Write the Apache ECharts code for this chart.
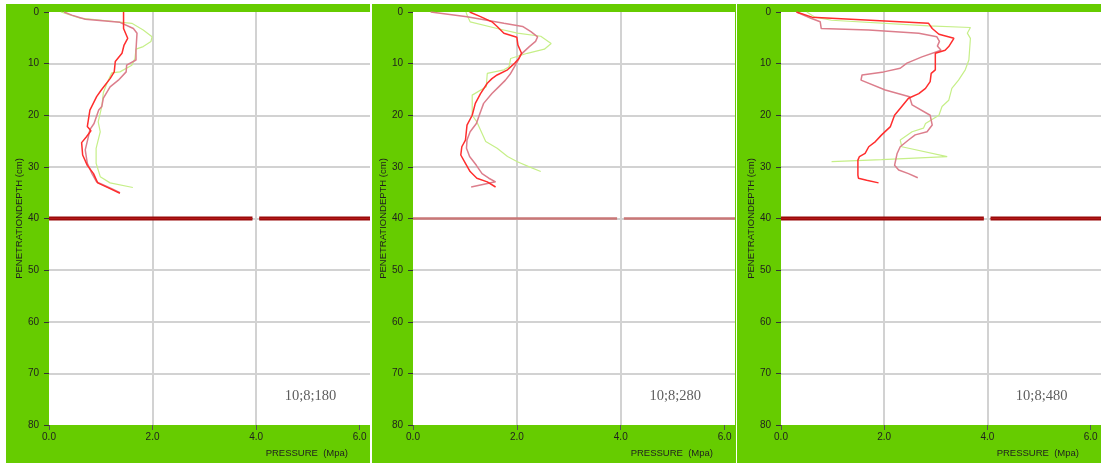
<!DOCTYPE html>
<html>
<head>
<meta charset="utf-8">
<title>Penetration resistance profiles</title>
<script src="https://cdn.jsdelivr.net/npm/echarts@6/dist/echarts.min.js"></script>
<style>
  html, body { margin: 0; padding: 0; background: #ffffff; }
  #chart { width: 1101px; height: 464px; }
</style>
</head>
<body>
<div id="chart"></div>
<script>
// ---- data: [pressure (MPa), penetration depth (cm)] ----
const pressureTicks = [0, 2, 4, 6];
const tagLabels = ['10;8;180', '10;8;280', '10;8;480'];
const tagPosition = [5.05, 74.5];
const limitDepth = 40;
const limitBreak = [3.93, 4.06];
const pressureMax = 6.2;
const depthMax = 80;

// profile 10;8;180
const red180 = [[1.44,0],[1.44,3.2],[1.52,5.1],[1.45,6.4],[1.41,8.0],[1.28,9.6],[1.26,11.6],[1.18,12.9],[1.01,15.1],[0.92,16.4],[0.79,19.0],[0.74,22.2],[0.81,23.0],[0.72,24.2],[0.63,25.3],[0.65,27.7],[0.74,29.7],[0.86,31.3],[0.94,33.1],[1.18,34.2],[1.37,35.1]];
const rose180 = [[0.29,0],[0.44,0.6],[0.70,1.4],[1.37,2.0],[1.63,3.2],[1.70,4.1],[1.68,7.4],[1.68,9.3],[1.50,10.3],[1.49,11.6],[1.34,13.2],[1.18,14.5],[1.05,16.7],[1.02,18.3],[0.96,19.0],[0.87,21.6],[0.79,22.8],[0.76,24.2],[0.70,26.7],[0.74,29.3],[0.83,31.3],[0.92,32.9],[1.18,34.1],[1.37,35.0]];
const green180 = [[0.23,0],[0.60,1.2],[1.12,1.7],[1.60,2.2],[1.82,3.5],[1.99,4.8],[1.97,5.7],[1.82,6.7],[1.68,7.2],[1.66,9.0],[1.60,10.3],[1.37,11.6],[1.21,11.8],[1.12,13.8],[1.05,15.6],[1.02,18.3],[0.95,21.3],[0.99,23.2],[0.91,26.4],[0.91,29.3],[0.99,31.9],[1.18,33.1],[1.62,34.0]];

// profile 10;8;280
const red280 = [[1.09,0],[1.30,0.9],[1.52,1.9],[1.62,2.8],[1.75,4.1],[2.00,4.9],[2.02,6.4],[2.09,8.0],[2.04,9.0],[1.96,9.9],[1.82,11.2],[1.62,12.2],[1.52,12.9],[1.43,13.8],[1.30,15.8],[1.20,17.7],[1.14,20.0],[1.04,21.9],[1.01,24.8],[0.94,26.1],[0.92,27.7],[1.01,29.3],[1.10,30.9],[1.23,32.2],[1.43,32.9],[1.59,33.9]];
const rose280 = [[0.34,0],[1.04,0.9],[1.75,2.2],[2.11,2.8],[2.27,3.8],[2.40,4.8],[2.36,5.7],[2.24,6.7],[2.07,8.3],[2.01,9.6],[1.88,11.9],[1.78,13.2],[1.65,14.5],[1.52,15.8],[1.36,17.7],[1.29,19.6],[1.22,21.6],[1.10,23.2],[1.04,24.8],[1.03,26.4],[1.09,28.0],[1.22,29.7],[1.33,31.3],[1.46,32.2],[1.59,32.9],[1.12,33.9]];
const green280 = [[1.02,0],[1.04,0.6],[1.10,1.9],[1.62,3.2],[2.01,4.1],[2.46,4.7],[2.66,6.1],[2.53,7.2],[2.20,8.0],[1.88,9.0],[1.85,10.6],[1.75,11.2],[1.43,11.9],[1.41,14.5],[1.14,16.1],[1.14,20.0],[1.23,21.3],[1.40,25.1],[1.62,26.4],[1.82,28.0],[2.01,29.0],[2.24,30.0],[2.46,30.9]];

// profile 10;8;480
const red480 = [[0.30,0],[0.60,1.0],[2.86,2.2],[2.93,3.2],[3.06,4.3],[3.35,5.1],[3.25,6.7],[3.18,7.4],[2.99,8.0],[2.99,11.2],[2.91,11.9],[2.89,13.5],[2.80,14.8],[2.67,15.8],[2.47,16.7],[2.34,18.3],[2.20,20.0],[2.12,22.2],[1.95,23.8],[1.83,25.1],[1.70,26.1],[1.63,27.4],[1.52,28.0],[1.49,28.7],[1.49,31.6],[1.50,32.2],[1.66,32.6],[1.89,33.1]];
const rose480 = [[0.30,0],[0.58,1.2],[0.76,1.9],[0.78,3.2],[1.70,3.5],[2.67,4.1],[3.02,4.8],[3.07,5.7],[3.03,6.6],[3.10,7.4],[2.73,8.7],[2.44,9.9],[2.31,10.9],[1.99,11.6],[1.57,12.2],[1.55,13.2],[2.02,15.1],[2.49,16.4],[2.54,18.0],[2.89,20.0],[2.93,21.9],[2.83,23.2],[2.60,23.8],[2.47,24.8],[2.31,26.1],[2.25,27.4],[2.20,29.7],[2.28,30.6],[2.47,31.3],[2.65,32.1]];
const green480 = [[0.50,0],[0.66,1.0],[0.98,1.6],[2.86,2.7],[3.67,3.0],[3.61,4.1],[3.67,5.1],[3.64,9.3],[3.57,11.2],[3.44,13.2],[3.31,14.8],[3.25,17.1],[3.12,18.3],[3.06,20.0],[2.80,21.6],[2.76,22.5],[2.54,23.2],[2.31,24.8],[2.34,26.1],[3.22,28.0],[1.95,28.6],[0.98,29.0]];

// ---- layout and styling ----
const panels = [
  { tag: tagLabels[0], red: red180, rose: rose180, green: green180, heavyLimit: true,
    grid: { left: 49, top: 12, width: 321, height: 413 }, frame: { x: 6, w: 364 } },
  { tag: tagLabels[1], red: red280, rose: rose280, green: green280, heavyLimit: false,
    grid: { left: 413, top: 12, width: 322, height: 413 }, frame: { x: 372, w: 364 } },
  { tag: tagLabels[2], red: red480, rose: rose480, green: green480, heavyLimit: true,
    grid: { left: 781, top: 12, width: 320, height: 413 }, frame: { x: 737, w: 364 } }
];

const FRAME_GREEN = '#66cc00';
const AXIS_TEXT = '#1f1f1f';
const GRID_GREY = '#d2d2d2';
const SANS = '"Liberation Sans", Arial, sans-serif';

// depth-40 reference line, split around the 4 MPa gridline
const limitLine = [
  [0, limitDepth], [limitBreak[0], limitDepth], ['-', '-'],
  [limitBreak[1], limitDepth], [pressureMax, limitDepth]
];

const grids = [], xAxes = [], yAxes = [], series = [], graphics = [];

panels.forEach((p, i) => {
  grids.push(Object.assign({ show: true, backgroundColor: '#ffffff', borderWidth: 0, containLabel: false }, p.grid));

  graphics.push({
    type: 'rect', z: -10, silent: true,
    shape: { x: p.frame.x, y: 4, width: p.frame.w, height: 459 },
    style: { fill: FRAME_GREEN }
  });
  graphics.push({
    type: 'text', silent: true,
    x: p.grid.left + p.grid.width - 22, y: 453,
    style: { text: 'PRESSURE  (Mpa)', font: '9.5px ' + SANS, fill: AXIS_TEXT,
             textAlign: 'right', textVerticalAlign: 'middle' }
  });

  xAxes.push({
    gridIndex: i, type: 'value', position: 'bottom', min: 0, max: pressureMax, interval: 2,
    axisLine: { show: false, onZero: false },
    axisTick: { show: true, length: 5, customValues: pressureTicks,
                lineStyle: { color: '#555', width: 1 } },
    axisLabel: { customValues: pressureTicks, margin: 7, color: AXIS_TEXT,
                 fontSize: 10, fontFamily: SANS, formatter: v => v.toFixed(1) },
    splitLine: { show: true, showMinLine: false, showMaxLine: false,
                 lineStyle: { color: GRID_GREY, width: 2 } }
  });

  yAxes.push({
    gridIndex: i, type: 'value', inverse: true, min: 0, max: depthMax, interval: 10,
    name: 'PENETRATIONDEPTH (cm)', nameLocation: 'middle', nameGap: 23, nameRotate: 90,
    nameTextStyle: { color: AXIS_TEXT, fontSize: 9.5, fontFamily: SANS },
    axisLine: { show: false, onZero: false },
    axisTick: { show: true, length: 5, lineStyle: { color: '#333', width: 1 } },
    axisLabel: { margin: 10, color: AXIS_TEXT, fontSize: 10, fontFamily: SANS },
    splitLine: { show: true, showMinLine: false, showMaxLine: false,
                 lineStyle: { color: GRID_GREY, width: 2 } }
  });

  const base = { type: 'line', xAxisIndex: i, yAxisIndex: i, symbol: 'none',
                 silent: true, animation: false, connectNulls: false };

  series.push(Object.assign({}, base, { name: 'green', data: p.green, z: 2,
    lineStyle: { color: '#c6ef88', width: 1.2 } }));
  series.push(Object.assign({}, base, { name: 'rose', data: p.rose, z: 3,
    lineStyle: { color: '#dc7e8c', width: 1.5 } }));
  series.push(Object.assign({}, base, { name: 'red', data: p.red, z: 4,
    lineStyle: { color: '#ff2d2d', width: 1.5 } }));

  if (p.heavyLimit) {
    series.push(Object.assign({}, base, { name: 'limit', data: limitLine, z: 5,
      lineStyle: { color: '#9a0a0a', width: 4, cap: 'butt' } }));
    series.push(Object.assign({}, base, { name: 'limit-core', data: limitLine, z: 6,
      lineStyle: { color: '#b31818', width: 1.2, cap: 'butt' } }));
  } else {
    series.push(Object.assign({}, base, { name: 'limit', data: limitLine, z: 5,
      lineStyle: { color: '#c97777', width: 2.5, cap: 'butt' } }));
  }

  series.push({
    type: 'scatter', xAxisIndex: i, yAxisIndex: i, silent: true, animation: false,
    symbolSize: 1, itemStyle: { color: 'rgba(0,0,0,0)' },
    data: [tagPosition],
    label: { show: true, position: 'inside', formatter: p.tag,
             fontFamily: '"Liberation Serif", "Times New Roman", serif',
             fontSize: 14.5, color: '#333333' }
  });
});

const chart = echarts.init(document.getElementById('chart'), null, { renderer: 'canvas' });
chart.setOption({
  animation: false,
  backgroundColor: '#ffffff',
  grid: grids,
  xAxis: xAxes,
  yAxis: yAxes,
  series: series,
  graphic: { elements: graphics }
});
</script>
</body>
</html>
